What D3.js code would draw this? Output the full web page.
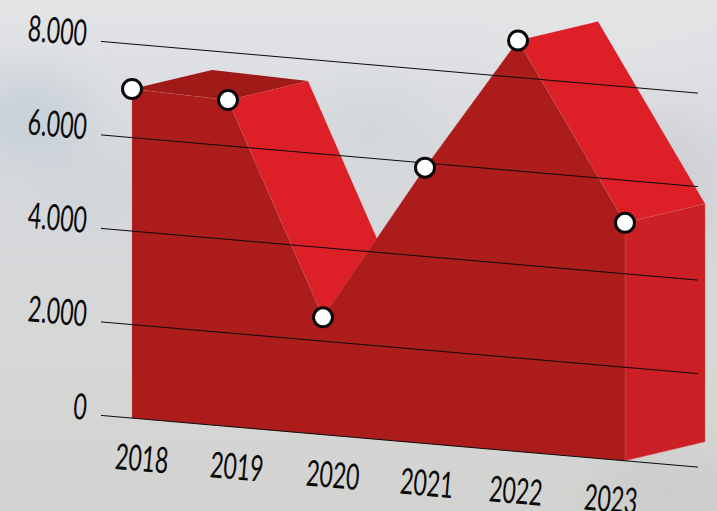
<!DOCTYPE html>
<html>
<head>
<meta charset="utf-8">
<script src="https://cdn.jsdelivr.net/npm/d3@7"></script>
<style>
    html, body { margin: 0; padding: 0; background: #d8d9da; overflow: hidden; }
    text { font-family: "Lato", "Open Sans", sans-serif; font-weight: 400; fill: #0b0b0b; }
</style>
</head>
<body>
<svg id="chart" width="717" height="511"></svg>
<script>
var years = [2018, 2019, 2020, 2021, 2022, 2023];
var values = [7040, 6980, 2510, 5900, 8790, 5090];
var yTicks = [0, 2000, 4000, 6000, 8000];
var yTickLabels = ["0", "2.000", "4.000", "6.000", "8.000"];

var width = 717, height = 511;
var slope = 0.0866; // axes lean downward to the right
var tilt = Math.atan(slope) * 180 / Math.PI;
var depth = { x: 80, y: -19 };

// the picture is hand drawn, the years are not evenly spaced
var x = d3.scaleLinear().domain(years).range([132, 228, 323, 425, 518, 625]);
var xLabel = d3.scaleOrdinal().domain(years).range([142, 237, 333, 427, 516, 611]);
var y = d3.scaleLinear().domain([0, 8000]).range([415.5, 41.5]);

function skewY(px, v) {
    return y(v) + (px - 102) * slope;
}
function front(d) {
    var px = x(d.year);
    return [px, skewY(px, d.value)];
}
function back(d) {
    var p = front(d);
    return [p[0] + depth.x, p[1] + depth.y];
}

var data = years.map(function (year, i) {
    return { year: year, value: values[i] };
});
var last = data[data.length - 1];
var line = d3.line();

var svg = d3.select("#chart");
var defs = svg.append("defs");

// BACKGROUND (cloudy sky)
var sky = defs.append("linearGradient").attr("id", "sky")
    .attr("x1", 0).attr("y1", 0).attr("x2", 0).attr("y2", 1);
[[0, "#e3e4e6"], [0.14, "#dddfe2"], [0.3, "#d7d9dc"], [0.55, "#d6d7d9"], [0.75, "#d6d7d5"], [1, "#d2d3d0"]].forEach(function (s) {
    sky.append("stop").attr("offset", s[0]).attr("stop-color", s[1]);
});
defs.append("filter").attr("id", "blur")
    .attr("x", "-50%").attr("y", "-50%").attr("width", "200%").attr("height", "200%")
    .append("feGaussianBlur").attr("stdDeviation", 20);

svg.append("rect").attr("width", width).attr("height", height).attr("fill", "url(#sky)");
var clouds = [
    [30, 120, 60, 45, "#c9d2d9"],
    [90, 190, 50, 30, "#cfd5da"],
    [670, 190, 50, 70, "#cfd1d4"],
    [600, 30, 120, 30, "#e2e3e5"],
    [370, 130, 50, 40, "#d3d7db"],
    [670, 490, 80, 30, "#cccdca"]
];
svg.append("g").attr("filter", "url(#blur)")
    .selectAll("ellipse").data(clouds).join("ellipse")
    .attr("cx", function (d) { return d[0]; })
    .attr("cy", function (d) { return d[1]; })
    .attr("rx", function (d) { return d[2]; })
    .attr("ry", function (d) { return d[3]; })
    .attr("fill", function (d) { return d[4]; });

// TOP FACES, back to front
var topFaces = d3.pairs(data).filter(function (p) { return p[1].value < p[0].value; });
var flatColor = "#a01a17", slopeColor = "#dd2027";
svg.append("g").selectAll("path").data(topFaces).join("path")
    .attr("d", function (p) {
        return line([front(p[0]), back(p[0]), back(p[1]), front(p[1])]) + "Z";
    })
    .attr("fill", function (p) {
        return p[0].value - p[1].value < 500 ? flatColor : slopeColor;
    });

// RIGHT SIDE
var base = { year: last.year, value: 0 };
svg.append("path")
    .attr("d", line([front(last), back(last), back(base), front(base)]) + "Z")
    .attr("fill", "#cb2025")
    .attr("stroke", "#e0555a").attr("stroke-width", 0.4);

// FRONT
var frontArea = d3.area()
    .x(function (d) { return x(d.year); })
    .y0(function (d) { return skewY(x(d.year), 0); })
    .y1(function (d) { return skewY(x(d.year), d.value); });
svg.append("path")
    .datum(data)
    .attr("d", frontArea)
    .attr("fill", "#ab1c1b")
    .attr("stroke", "#cf6a66").attr("stroke-width", 0.3);

// GRID LINES
svg.append("g").selectAll("line").data(yTicks).join("line")
    .attr("x1", 101)
    .attr("x2", 698)
    .attr("y1", function (d) { return skewY(101, d); })
    .attr("y2", function (d) { return skewY(698, d); })
    .attr("stroke", "#0a0a0a").attr("stroke-width", 1);

// LABELS
svg.append("g").selectAll("text").data(yTicks).join("text")
    .attr("transform", function (d) {
        return "translate(87," + (skewY(87, d) - 8.5) + ") rotate(" + tilt + ") scale(0.64,1)";
    })
    .attr("text-anchor", "end")
    .attr("dominant-baseline", "central")
    .attr("font-size", 36)
    .text(function (d, i) { return yTickLabels[i]; });

svg.append("g").selectAll("text").data(years).join("text")
    .attr("transform", function (d) {
        var px = xLabel(d);
        return "translate(" + px + "," + (skewY(px, 0) + 38) + ") rotate(" + tilt + ") scale(0.64,1)";
    })
    .attr("text-anchor", "middle")
    .attr("dominant-baseline", "central")
    .attr("font-size", 36)
    .text(function (d) { return d; });

// POINTS
svg.append("g").selectAll("circle").data(data).join("circle")
    .attr("cx", function (d) { return front(d)[0]; })
    .attr("cy", function (d) { return front(d)[1]; })
    .attr("r", 9.5)
    .attr("fill", "#ffffff")
    .attr("stroke", "#0a0a0a").attr("stroke-width", 3);
</script>
</body>
</html>
